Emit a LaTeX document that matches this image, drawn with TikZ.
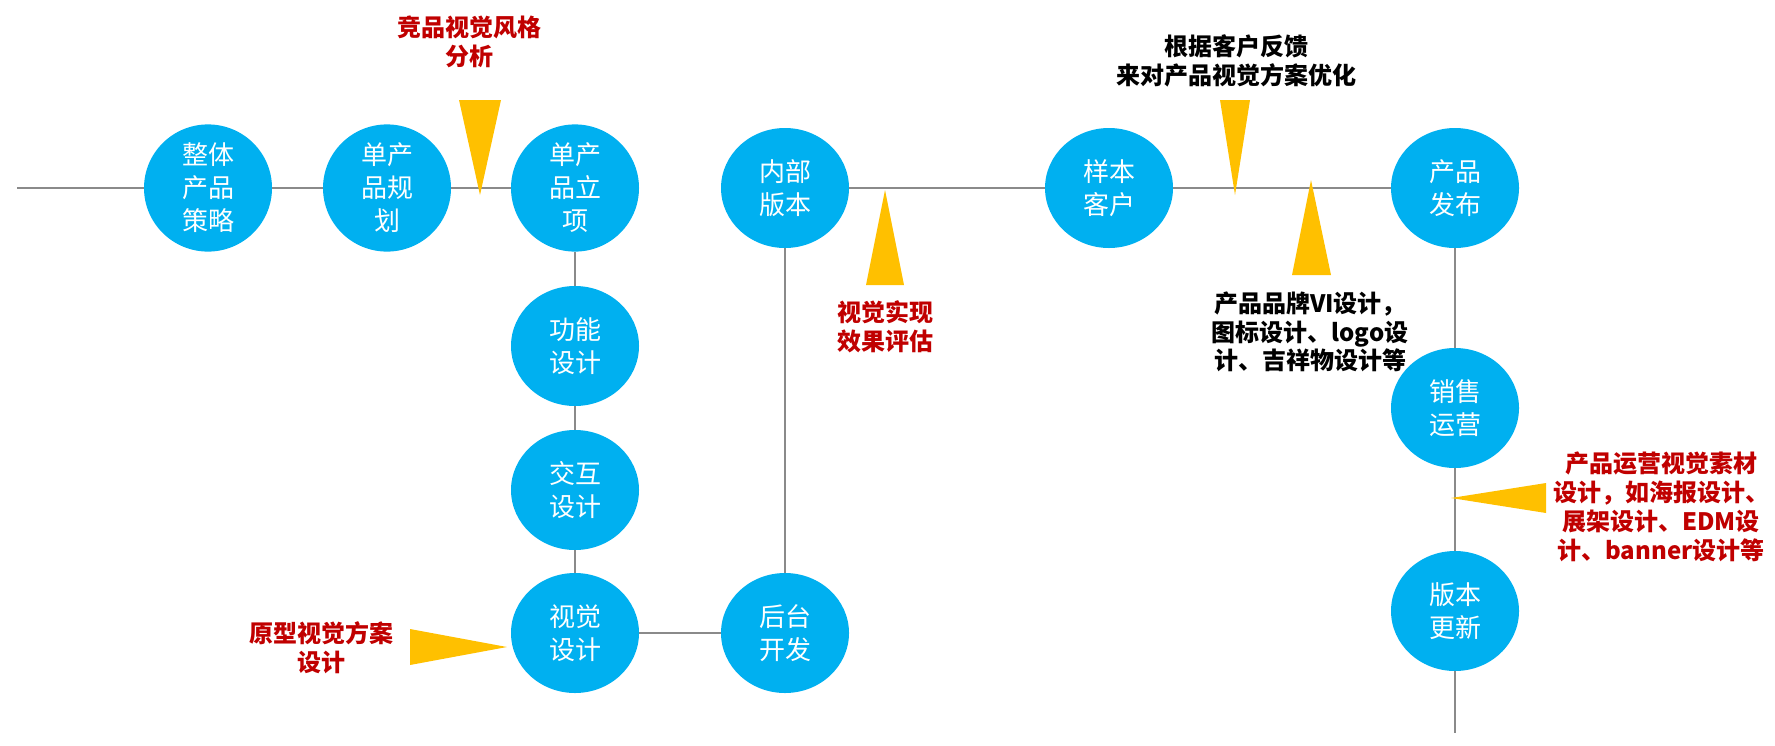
\documentclass[tikz,border=0pt]{standalone}
\usepackage{fontspec}
\setmainfont{Noto Sans CJK SC}
\usetikzlibrary{positioning, shapes.geometric}

\definecolor{phaseblue}{HTML}{00B0F0}
\definecolor{markyellow}{HTML}{FFC000}
\definecolor{notered}{HTML}{C00000}
\definecolor{linegray}{HTML}{8A8A8A}

\begin{document}
\begin{tikzpicture}[
        x=0.5pt, y=-0.5pt,
        phase/.style={ellipse, fill=phaseblue, text=white, minimum width=64pt, minimum height=60pt, inner sep=0pt, align=center, font=\fontsize{13}{16.5}\selectfont},
        rednote/.style={text=notered, align=center, inner sep=0pt, font=\fontsize{12}{14.3}\selectfont\bfseries},
        blacknote/.style={rednote, text=black},
        marker/.style={fill=markyellow},
        link/.style={draw=linegray, line width=1.2pt}
    ]
    \useasboundingbox (0,0) rectangle (1775,745);

    % main flow
    \node[phase] (Whole) at (208,188) {整体\\产品\\策略};
    \node[phase] (Plan) at (387,188) {单产\\品规\\划};
    \node[phase] (Setup) at (575,188) {单产\\品立\\项};
    \node[phase] (Func) at (575,346) {功能\\设计};
    \node[phase] (Inter) at (575,490) {交互\\设计};
    \node[phase] (Visual) at (575,633) {视觉\\设计};
    \node[phase] (Back) at (785,633) {后台\\开发};
    \node[phase] (Inner) at (785,188) {内部\\版本};
    \node[phase] (Sample) at (1109,188) {样本\\客户};
    \node[phase] (Release) at (1455,188) {产品\\发布};
    \node[phase] (Sales) at (1455,408) {销售\\运营};
    \node[phase] (Update) at (1455,611) {版本\\更新};

    \coordinate (Start) at (17,188);
    \coordinate (Finish) at (1455,733);

    \draw[link] (Start) -- (Whole) -- (Plan) -- (Setup) -- (Func) -- (Inter) -- (Visual) -- (Back) -- (Inner);
    \draw[link] (Inner) -- (Sample) -- (Release) -- (Sales) -- (Update) -- (Finish);

    % notes
    \node[rednote] (CompNote) at (469,42) {竞品视觉风格\\分析};
    \node[rednote] (EvalNote) at (885,327) {视觉实现\\效果评估};
    \node[blacknote] (FeedNote) at (1236,61) {根据客户反馈\\来对产品视觉方案优化};
    \node[blacknote] (BrandNote) at (1310,332) {产品品牌VI设计，\\图标设计、logo设\\计、吉祥物设计等};
    \node[rednote, font=\fontsize{12}{14.6}\selectfont\bfseries] (OpsNote) at (1661,507) {产品运营视觉素材\\设计，如海报设计、\\展架设计、EDM设\\计、banner设计等};
    \node[rednote] (ProtoNote) at (321,648) {原型视觉方案\\设计};

    % markers
    \fill[marker] (459,100) -- (501,100) -- (480,195) -- cycle;
    \fill[marker] (866,285) -- (904,285) -- (885,190) -- cycle;
    \fill[marker] (1220,100) -- (1250,100) -- (1235,195) -- cycle;
    \fill[marker] (1292,275) -- (1331,275) -- (1311,180) -- cycle;
    \fill[marker] (1546,483) -- (1546,513) -- (1451,498) -- cycle;
    \fill[marker] (410,629) -- (410,665) -- (507,647) -- cycle;

\end{tikzpicture}
\end{document}
